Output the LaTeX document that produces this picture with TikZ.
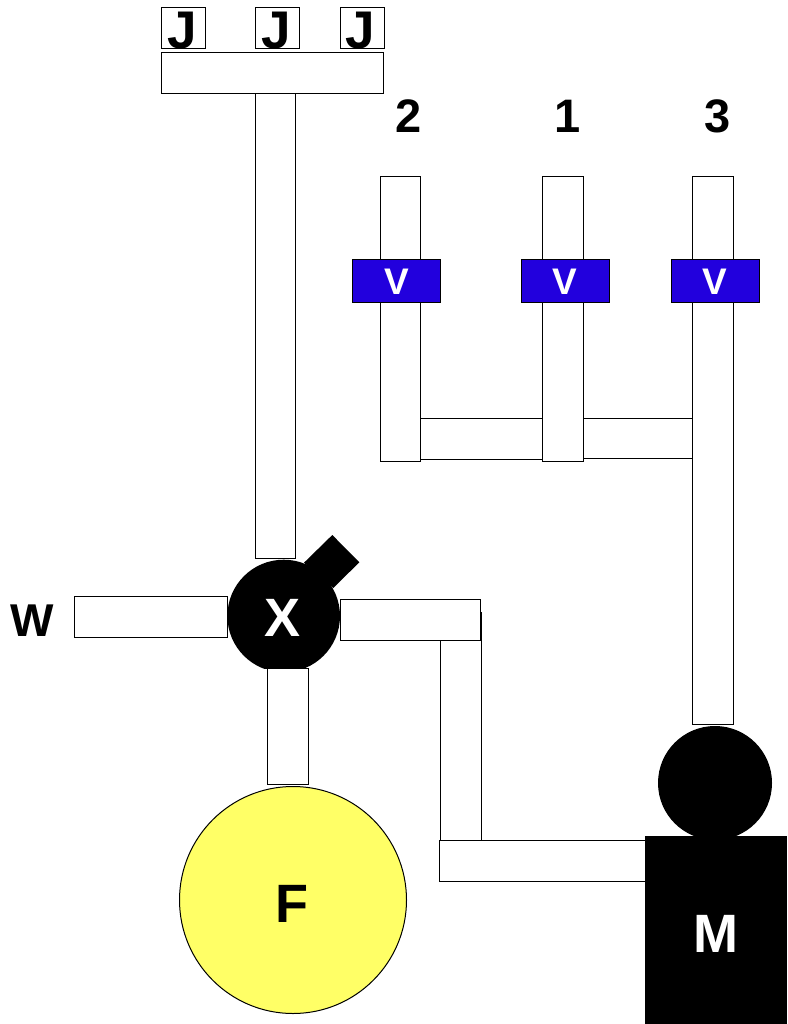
\documentclass[tikz,border=0pt]{standalone}
\usepackage{fontspec}
\setmainfont{Liberation Sans}
\definecolor{valveblue}{HTML}{2200DD}
\definecolor{tankyellow}{HTML}{FFFF66}
\tikzset{
  pipe/.style={draw=black,fill=white,line width=1pt},
  blob/.style={circle,fill=black,draw=none,inner sep=0pt},
  bigletter/.style={anchor=base,inner sep=0pt,font=\fontsize{#1}{#1}\selectfont\bfseries},
  whiteletter/.style={bigletter=#1,text=white}
}
\begin{document}
\begin{tikzpicture}[x=1pt,y=-1pt]
\useasboundingbox (0,0) rectangle (787,1024);

% the jets and the manifold above them
  \draw[pipe] (161.5,8) rectangle (205.5,48.5);
  \draw[pipe] (255.5,8) rectangle (299.5,48.5);
  \draw[pipe] (340,8) rectangle (384,48.5);
  \node[bigletter=53] (j1) at (182,48.5) {J};
  \node[bigletter=53] (j2) at (276,48.5) {J};
  \node[bigletter=53] (j3) at (360,48.5) {J};
  \draw[pipe] (161.5,52.5) rectangle (383.5,93.5);
  \draw[pipe] (255,93.5) rectangle (295.5,558.5);

% the three lines and their valves
  \draw[pipe] (420.5,418) rectangle (542.5,459);
  \draw[pipe] (583,418) rectangle (692.5,458.5);
  \draw[pipe] (380,177) rectangle (420.5,461.5);
  \draw[pipe] (542.5,177) rectangle (583,461.5);
  \draw[pipe] (692.5,177) rectangle (733,724);
  \node[bigletter=47] (n2) at (409,133) {2};
  \node[bigletter=47] (n1) at (568,133) {1};
  \node[bigletter=47] (n3) at (718,133) {3};
  \foreach \xv/\nm in {396.5/a,565/b,715/c}{
    \draw[pipe,fill=valveblue] (\xv-44,259) rectangle (\xv+44,302.5);
    \node[whiteletter=37] (v\nm) at (\xv,294) {V};
  }

% the mixer
  \draw[pipe] (74,596.5) rectangle (227.5,637);
  \draw[pipe] (267.5,668) rectangle (308,784.5);
  \draw[pipe] (440.5,612) rectangle (481,840);
  \draw[pipe] (340,599.5) rectangle (480.5,640);
  \fill[black] (332.3,535) -- (359.3,562.3) -- (333.3,588) -- (304,562.7) -- cycle;
  \begin{scope}
    \clip (220,550) rectangle (350,668);
    \node[blob,minimum size=112.6pt] (mixer) at (283.7,616) {};
  \end{scope}
  \node[whiteletter=54] (x) at (283,636) {X};
  \node[bigletter=46] (w) at (32,636) {W};

% the tank and the machine
  \draw[pipe,fill=tankyellow] (293,900) circle (113.5);
  \node[bigletter=54] (f) at (292,922) {F};
  \draw[pipe] (439.5,840) rectangle (646,881);
  \node[blob,minimum size=114pt] (pump) at (715,783) {};
  \fill[black] (645,836) rectangle (787,1024);
  \node[whiteletter=54] (m) at (716,952) {M};

\end{tikzpicture}
\end{document}
